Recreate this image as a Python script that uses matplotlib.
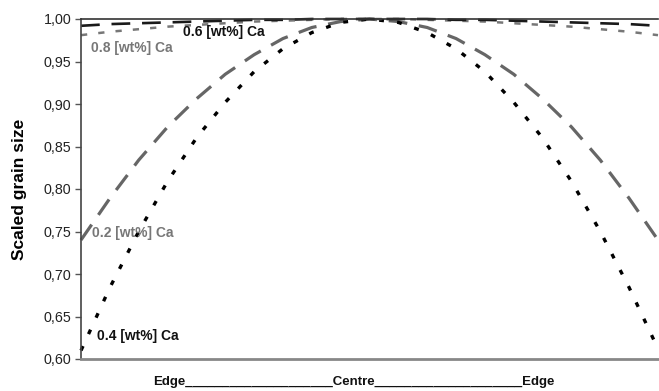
import matplotlib
matplotlib.use("Agg")
import matplotlib.pyplot as plt

plt.rcParams['font.family'] = ['Liberation Sans', 'DejaVu Sans']
plt.rcParams['lines.scale_dashes'] = False

# positions across the sample: -1 = Edge, 0 = Centre, 1 = Edge
position = [-1.0, -0.9, -0.8, -0.7, -0.6, -0.5, -0.4, -0.3, -0.2, -0.1, 0.0,
            0.1, 0.2, 0.3, 0.4, 0.5, 0.6, 0.7, 0.8, 0.9, 1.0]
ca_02 = [0.740, 0.789, 0.834, 0.873, 0.906, 0.935, 0.958, 0.977, 0.990, 0.997, 1.000,
         0.997, 0.990, 0.977, 0.958, 0.935, 0.906, 0.873, 0.834, 0.789, 0.740]
ca_04 = [0.610, 0.684, 0.750, 0.809, 0.860, 0.902, 0.938, 0.965, 0.984, 0.996, 1.000,
         0.996, 0.984, 0.965, 0.938, 0.902, 0.860, 0.809, 0.750, 0.684, 0.612]
ca_06 = [0.992, 0.994, 0.995, 0.996, 0.997, 0.998, 0.999, 0.999, 1.000, 1.000, 1.000,
         1.000, 1.000, 0.999, 0.999, 0.998, 0.997, 0.996, 0.995, 0.994, 0.992]
ca_08 = [0.981, 0.985, 0.988, 0.991, 0.993, 0.995, 0.997, 0.998, 0.999, 1.000, 1.000,
         1.000, 0.999, 0.998, 0.997, 0.995, 0.993, 0.991, 0.988, 0.985, 0.981]

yticks = [0.60, 0.65, 0.70, 0.75, 0.80, 0.85, 0.90, 0.95, 1.00]
ytick_labels = ["0,60", "0,65", "0,70", "0,75", "0,80", "0,85", "0,90", "0,95", "1,00"]

fig = plt.figure(figsize=(6.59, 3.91), dpi=100)
ax = fig.add_axes([81/659, 1-359/391, (658-81)/659, (359-19)/391])

ax.plot(position, ca_02, color='#666666', lw=2.3, dashes=(13.5, 8.5), clip_on=False, dash_capstyle='butt')
ax.plot(position, ca_04, color='#000000', lw=2.4, dashes=(3.5, 9.5), clip_on=False, dash_capstyle='butt')
ax.plot(position, ca_08, color='#777777', lw=1.8, dashes=(4.5, 8.0), clip_on=False, dash_capstyle='butt')
ax.plot(position, ca_06, color='#1a1a1a', lw=1.9, dashes=(13.5, 8.5), clip_on=False, dash_capstyle='butt')

ax.set_xlim(-1, 1)
ax.set_ylim(0.60, 1.00)
ax.set_yticks(yticks)
ax.set_yticklabels(ytick_labels, fontsize=10.3, color='#222222')
ax.set_xticks([])
ax.tick_params(axis='y', direction='out', length=4, width=1, color='#555555', pad=3)

ax.spines['right'].set_visible(False)
ax.spines['top'].set_color('#333333')
ax.spines['top'].set_linewidth(1.2)
ax.spines['left'].set_color('#444444')
ax.spines['left'].set_linewidth(1.2)
ax.spines['bottom'].set_color('#888888')
ax.spines['bottom'].set_linewidth(2.0)

ax.set_ylabel("Scaled grain size", fontsize=12.5, fontweight='bold', labelpad=12)

def px(xp, yp):
    return (xp/659, 1-yp/391)

fig.text(*px(183, 32), "0.6 [wt%] Ca", fontsize=10, fontweight='bold', color='#111111', va='center', ha='left')
fig.text(*px(91, 48), "0.8 [wt%] Ca", fontsize=10, fontweight='bold', color='#777777', va='center', ha='left')
fig.text(*px(92, 233), "0.2 [wt%] Ca", fontsize=10, fontweight='bold', color='#777777', va='center', ha='left')
fig.text(*px(97, 336), "0.4 [wt%] Ca", fontsize=10, fontweight='bold', color='#111111', va='center', ha='left')

fig.text(*px(354, 382), "Edge" + "_"*20 + "Centre" + "_"*20 + "Edge", fontsize=9.5, fontweight='bold', color='#111111', va='center', ha='center')

fig.savefig("out.png", dpi=100)
